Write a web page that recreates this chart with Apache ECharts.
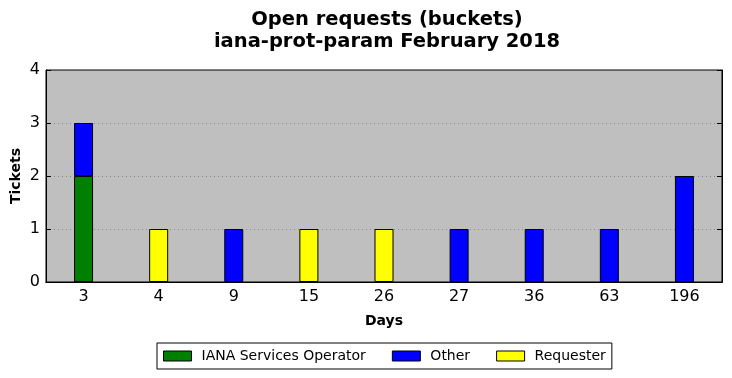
<!DOCTYPE html>
<html>
<head>
<meta charset="utf-8">
<script src="https://cdn.jsdelivr.net/npm/echarts@6/dist/echarts.min.js"></script>
<style>
  html, body { margin: 0; padding: 0; background: #fff; }
  #chart { width: 732px; height: 378px; }
</style>
</head>
<body>
<div id="chart"></div>
<script>
var days = ['3', '4', '9', '15', '26', '27', '36', '63', '196']
var ianaOperator = [2, '-', '-', '-', '-', '-', '-', '-', '-']
var other = [1, '-', 1, '-', '-', 1, 1, 1, 2]
var requester = ['-', 1, '-', 1, 1, '-', '-', '-', '-']
var yTicks = [0, 1, 2, 3, 4]

var font = 'DejaVu Sans'

function barSeries (name, color, data) {
  return {
    name: name,
    type: 'bar',
    stack: 'tickets',
    barWidth: 19,
    itemStyle: { color: color, borderColor: '#000', borderWidth: 1 },
    data: data
  }
}

var chart = echarts.init(document.getElementById('chart'))
chart.setOption({
  animation: false,
  textStyle: { fontFamily: font },
  title: {
    text: 'Open requests (buckets)\niana-prot-param February 2018',
    left: 382,
    top: 4,
    textAlign: 'center',
    textStyle: { fontFamily: font, fontSize: 19.5, fontWeight: 'bold', color: '#000', lineHeight: 22 }
  },
  legend: {
    left: 157,
    top: 343,
    padding: [6, 6, 6, 6],
    borderColor: '#000',
    borderWidth: 1,
    borderRadius: 0,
    icon: 'rect',
    itemWidth: 28,
    itemHeight: 10,
    itemGap: 26,
    itemStyle: { borderColor: '#000', borderWidth: 1 },
    textStyle: { fontFamily: font, fontSize: 14, color: '#000', padding: [0, 0, 0, 5] },
    data: ['IANA Services Operator', 'Other', 'Requester']
  },
  grid: {
    left: 46,
    right: 10,
    top: 70,
    bottom: 96,
    outerBoundsMode: 'none',
    show: true,
    backgroundColor: '#bfbfbf',
    borderColor: '#000',
    borderWidth: 1
  },
  xAxis: [
    {
      type: 'category',
      data: days,
      name: 'Days',
      nameLocation: 'middle',
      nameGap: 32,
      nameTextStyle: { fontFamily: font, fontSize: 14, fontWeight: 'bold', color: '#000' },
      axisLine: { lineStyle: { color: '#000' } },
      axisTick: { inside: true, alignWithLabel: true, length: 5, lineStyle: { color: '#000' } },
      axisLabel: { fontFamily: font, fontSize: 16, color: '#000', margin: 7 }
    },
    {
      type: 'category',
      data: days,
      position: 'top',
      axisLine: { show: true, lineStyle: { color: '#000' } },
      axisTick: { inside: true, alignWithLabel: true, length: 5, lineStyle: { color: '#000' } },
      axisLabel: { show: false }
    }
  ],
  yAxis: [
    {
      type: 'value',
      min: 0,
      max: 4,
      interval: 1,
      name: 'Tickets',
      nameLocation: 'middle',
      nameGap: 23,
      nameMoveOverlap: false,
      nameTextStyle: { fontFamily: font, fontSize: 14, fontWeight: 'bold', color: '#000' },
      axisLine: { show: true, lineStyle: { color: '#000' } },
      axisTick: { show: true, inside: true, length: 5, lineStyle: { color: '#000' } },
      axisLabel: {
        fontFamily: font, fontSize: 16, color: '#000', margin: 6,
        formatter: function (v) { return yTicks.indexOf(v) >= 0 ? String(v) : '' }
      },
      splitLine: { show: true, showMinLine: false, showMaxLine: false, lineStyle: { color: '#888', type: [1, 3], width: 1 } }
    },
    {
      type: 'value',
      min: 0,
      max: 4,
      interval: 1,
      position: 'right',
      axisLine: { show: true, lineStyle: { color: '#000' } },
      axisTick: { show: true, inside: true, length: 5, lineStyle: { color: '#000' } },
      axisLabel: { show: false },
      splitLine: { show: false }
    }
  ],
  series: [
    barSeries('IANA Services Operator', '#008000', ianaOperator),
    barSeries('Other', '#0000ff', other),
    barSeries('Requester', '#ffff00', requester)
  ]
})
</script>
</body>
</html>
